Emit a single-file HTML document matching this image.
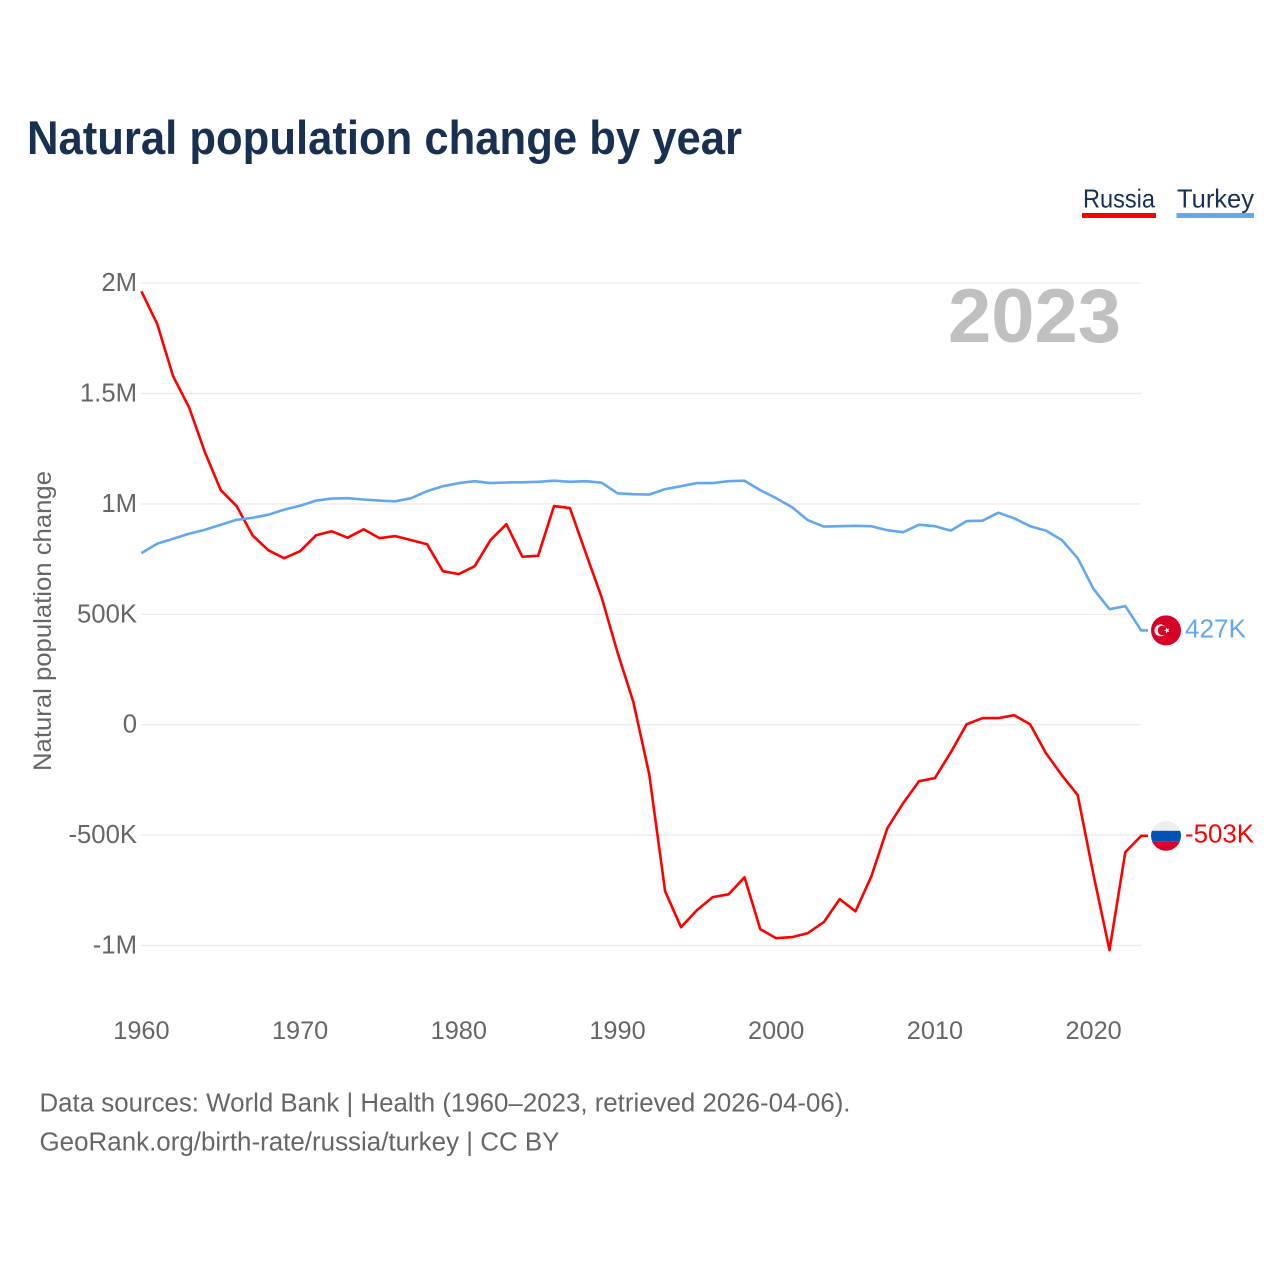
<!DOCTYPE html>
<html lang="en">
<head>
<meta charset="utf-8">
<title>Natural population change by year</title>
<style>
html,body{margin:0;padding:0;background:#fff;width:1280px;height:1280px;overflow:hidden}
svg{display:block;font-family:"Liberation Sans",sans-serif}
</style>
</head>
<body>
<svg id="chart" width="1280" height="1280" viewBox="0 0 1280 1280" xmlns="http://www.w3.org/2000/svg">
  <rect width="1280" height="1280" fill="#fff"/>
  <text x="27" y="154" font-size="47" font-weight="700" fill="#183153" textLength="715" lengthAdjust="spacingAndGlyphs">Natural population change by year</text>

  <g>
    <g>
      <text x="1083" y="207.500" font-size="26" fill="#183153" textLength="72" lengthAdjust="spacingAndGlyphs">Russia</text>
      <rect x="1082" y="213" width="74" height="5" fill="#ff0000"/>
    </g>
    <g>
      <text x="1177" y="207.500" font-size="26" fill="#183153" textLength="77" lengthAdjust="spacingAndGlyphs">Turkey</text>
      <rect x="1176.500" y="213" width="77.500" height="5" fill="#62a8ee"/>
    </g>
  </g>

  <g id="grid"></g>
  <g id="yticks"></g>
  <g id="xticks"></g>

  <text transform="translate(51,621) rotate(-90)" text-anchor="middle" font-size="25" fill="#666" textLength="300" lengthAdjust="spacingAndGlyphs">Natural population change</text>
  <text x="948" y="342" font-size="76" font-weight="700" fill="#c0c0c0" textLength="173" lengthAdjust="spacingAndGlyphs">2023</text>

  <path id="line-russia" fill="none" stroke="#ff0000" stroke-width="2.600" stroke-linejoin="round"/>
  <path id="line-turkey" fill="none" stroke="#62a8ee" stroke-width="2.600" stroke-linejoin="round"/>

  <defs>
    <clipPath id="flag-clip"><circle cx="0" cy="0" r="15"/></clipPath>
  </defs>

  <g id="flag-turkey">
    <circle r="15" fill="#d80027"/>
    <circle cx="-5.500" cy="0" r="6" fill="#f8f0f0"/>
    <circle cx="-3.600" cy="0" r="4.700" fill="#d80027"/>
    <polygon points="-2.200,0 -0.050,-0.760 0.010,-3.040 1.400,-1.240 3.590,-1.880 2.300,0 3.590,1.880 1.400,1.240 0.010,3.040 -0.050,0.760" fill="#f8f0f0"/>
  </g>
  <g id="flag-russia">
    <g clip-path="url(#flag-clip)">
      <rect x="-15" y="-15" width="30" height="10" fill="#eeeeee"/>
      <rect x="-15" y="-5" width="30" height="11" fill="#0052b4"/>
      <rect x="-15" y="6" width="30" height="10" fill="#d80027"/>
    </g>
  </g>
  <text id="value-turkey" x="1185" font-size="25.500" fill="#62a8ee" textLength="61" lengthAdjust="spacingAndGlyphs"></text>
  <text id="value-russia" x="1185" font-size="25.500" fill="#ff0000" textLength="69" lengthAdjust="spacingAndGlyphs"></text>

  <text x="39.500" y="1111.500" font-size="25.500" fill="#666" textLength="811" lengthAdjust="spacingAndGlyphs">Data sources: World Bank | Health (1960–2023, retrieved 2026-04-06).</text>
  <text x="39.500" y="1150.500" font-size="25.500" fill="#666" textLength="520" lengthAdjust="spacingAndGlyphs">GeoRank.org/birth-rate/russia/turkey | CC BY</text>
</svg>
<script>
const startYear = 1960;
const yearTicks = [1960, 1970, 1980, 1990, 2000, 2010, 2020];
const valueTicks = [2000, 1500, 1000, 500, 0, -500, -1000];
const valueTickLabels = ["2M", "1.5M", "1M", "500K", "0", "-500K", "-1M"];
const russia = [1963,1814,1578,1438,1234,1062,990,858,790,754,786,858,876,847,885,845,854,836,817,695,682,718,836,908,761,765,990,981,777,577,328,102,-224,-754,-917,-840,-781,-768,-691,-926,-967,-962,-944,-894,-790,-845,-686,-469,-355,-256,-242,-125,2,30,30,43,2,-129,-229,-319,-682,-1021,-577,-503];
const turkey = [777,820,842,865,883,906,928,937,951,974,992,1015,1024,1026,1020,1015,1012,1026,1058,1080,1094,1103,1094,1097,1098,1100,1105,1100,1103,1096,1048,1044,1042,1067,1080,1094,1094,1103,1105,1062,1026,985,926,897,899,901,899,881,872,906,899,879,922,924,960,935,899,879,836,754,614,523,537,427];

const xScale = year => 141.4 + (year - 1960) * 15.87;
const yScale = value => 724.7 - value * 0.2208;
const SVG_NS = "http://www.w3.org/2000/svg";
const formatK = v => (Math.abs(v) >= 1000 ? (v / 1000).toFixed(1).replace(/\.0$/, "") + "M" : Math.round(v) + "K");

const grid = document.getElementById("grid");
const yticks = document.getElementById("yticks");
const xticks = document.getElementById("xticks");

valueTicks.forEach((v, i) => {
  const line = document.createElementNS(SVG_NS, "line");
  
  
  line.setAttribute("x1", 141);
  line.setAttribute("x2", 1141);
  line.setAttribute("y1", yScale(v));
  line.setAttribute("y2", yScale(v));
  line.setAttribute("stroke", "#ececec");
  line.setAttribute("stroke-width", "1.400");
  grid.appendChild(line);

  const t = document.createElementNS(SVG_NS, "text");
  
  
  t.setAttribute("x", 137);
  t.setAttribute("y", yScale(v) + 8);
  t.setAttribute("text-anchor", "end");
  t.setAttribute("font-size", "25.700");
  t.setAttribute("fill", "#666");
  t.textContent = valueTickLabels[i];
  yticks.appendChild(t);
});

yearTicks.forEach(y => {
  const t = document.createElementNS(SVG_NS, "text");
  
  
  t.setAttribute("x", xScale(y));
  t.setAttribute("y", 1039);
  t.setAttribute("text-anchor", "middle");
  t.setAttribute("font-size", "25.300");
  t.setAttribute("fill", "#666");
  t.textContent = y;
  xticks.appendChild(t);
});

function linePath(values) {
  const pts = values.map((v, i) => xScale(startYear + i).toFixed(1) + "," + yScale(v).toFixed(1));
  const last = values[values.length - 1];
  pts.push("1148," + yScale(last).toFixed(1));
  return "M" + pts.join("L");
}
document.getElementById("line-russia").setAttribute("d", linePath(russia));
document.getElementById("line-turkey").setAttribute("d", linePath(turkey));

function placeEnd(flagId, labelId, values, labelOffset) {
  const last = values[values.length - 1];
  const cy = yScale(last);
  document.getElementById(flagId).setAttribute("transform", "translate(1166," + cy.toFixed(1) + ")");
  const lab = document.getElementById(labelId);
  lab.setAttribute("y", (cy + labelOffset).toFixed(1));
  lab.textContent = formatK(last);
}
placeEnd("flag-turkey", "value-turkey", turkey, 7);
placeEnd("flag-russia", "value-russia", russia, 6.5);
</script>
</body>
</html>
